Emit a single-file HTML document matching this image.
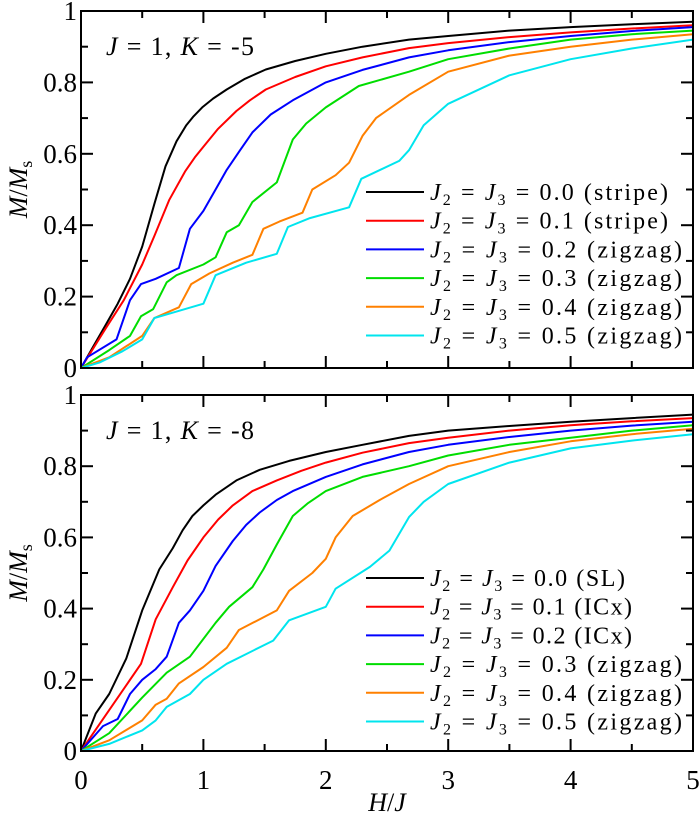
<!DOCTYPE html>
<html><head><meta charset="utf-8"><style>
body{margin:0;background:#fff}
svg, svg text, svg tspan{font-family:"Liberation Serif","DejaVu Serif",serif}
</style></head><body>
<svg id="c" width="700" height="816" xmlns="http://www.w3.org/2000/svg" font-family="Liberation Serif, DejaVu Serif, serif"></svg>
<script>
const colors=["#000000","#ff0000","#0000ff","#00dd00","#ff8000","#00e5ee"];
const xTicks=[0,1,2,3,4,5];
const yTicks=[0,0.2,0.4,0.6,0.8,1];
const yTickLabels=["0","0.2","0.4","0.6","0.8","1"];
const topLabels=["0.0 (stripe)","0.1 (stripe)","0.2 (zigzag)","0.3 (zigzag)","0.4 (zigzag)","0.5 (zigzag)"];
const botLabels=["0.0 (SL)","0.1 (ICx)","0.2 (ICx)","0.3 (zigzag)","0.4 (zigzag)","0.5 (zigzag)"];
// top panel series [x,y]
const top0=[[0,0],[0.1,0.06],[0.2,0.12],[0.3,0.18],[0.4,0.25],[0.5,0.34],[0.6,0.46],[0.69,0.565],[0.78,0.635],[0.86,0.68],[0.92,0.705],[0.99,0.73],[1.08,0.755],[1.19,0.78],[1.34,0.81],[1.51,0.836],[1.75,0.86],[2.0,0.88],[2.3,0.9],[2.68,0.92],[3,0.93],[3.5,0.945],[4,0.955],[4.5,0.963],[5,0.97]];
const top1=[[0,0],[0.2,0.11],[0.35,0.19],[0.5,0.29],[0.6,0.37],[0.72,0.47],[0.85,0.55],[0.93,0.59],[1.0,0.62],[1.12,0.67],[1.27,0.72],[1.38,0.75],[1.51,0.78],[1.75,0.815],[2.0,0.845],[2.3,0.87],[2.68,0.896],[3,0.91],[3.5,0.927],[4,0.94],[4.5,0.951],[5,0.96]];
const top2=[[0,0],[0.05,0.03],[0.29,0.08],[0.4,0.19],[0.49,0.235],[0.61,0.25],[0.8,0.28],[0.89,0.39],[1.0,0.44],[1.1,0.5],[1.19,0.555],[1.3,0.61],[1.4,0.66],[1.55,0.71],[1.73,0.75],[2.0,0.8],[2.3,0.835],[2.68,0.87],[3,0.89],[3.5,0.913],[4,0.93],[4.5,0.944],[5,0.955]];
const top3=[[0,0],[0.23,0.05],[0.4,0.09],[0.49,0.145],[0.59,0.165],[0.7,0.24],[0.78,0.26],[1.0,0.29],[1.1,0.31],[1.19,0.38],[1.29,0.4],[1.4,0.465],[1.6,0.52],[1.73,0.64],[1.84,0.685],[2.0,0.73],[2.27,0.79],[2.68,0.83],[3,0.865],[3.5,0.895],[4,0.92],[4.5,0.935],[5,0.945]];
const top4=[[0,0],[0.23,0.03],[0.5,0.09],[0.6,0.14],[0.8,0.17],[0.9,0.235],[1.05,0.265],[1.24,0.295],[1.4,0.317],[1.49,0.39],[1.62,0.41],[1.81,0.435],[1.89,0.5],[2.08,0.54],[2.19,0.575],[2.3,0.65],[2.41,0.7],[2.68,0.765],[3,0.83],[3.5,0.875],[4,0.9],[4.5,0.92],[5,0.935]];
const top5=[[0,0],[0.15,0.015],[0.34,0.047],[0.5,0.08],[0.6,0.14],[0.7,0.15],[1.0,0.18],[1.1,0.26],[1.35,0.295],[1.6,0.32],[1.69,0.395],[1.87,0.42],[2.19,0.45],[2.29,0.53],[2.6,0.58],[2.68,0.61],[2.8,0.68],[3,0.74],[3.5,0.82],[4,0.865],[4.5,0.895],[5,0.92]];
// bottom panel series
const bot0=[[0,0],[0.12,0.105],[0.23,0.16],[0.37,0.26],[0.5,0.395],[0.64,0.51],[0.75,0.57],[0.83,0.62],[0.91,0.66],[1.0,0.69],[1.1,0.72],[1.27,0.76],[1.46,0.79],[1.7,0.815],[2.0,0.84],[2.3,0.86],[2.68,0.885],[3,0.9],[3.5,0.913],[4,0.925],[4.5,0.935],[5,0.945]];
const bot1=[[0,0],[0.23,0.115],[0.49,0.245],[0.61,0.37],[0.75,0.46],[0.87,0.535],[1.0,0.6],[1.12,0.65],[1.24,0.69],[1.4,0.73],[1.6,0.76],[1.8,0.787],[2.0,0.81],[2.3,0.838],[2.68,0.865],[3,0.88],[3.5,0.9],[4,0.915],[4.5,0.926],[5,0.935]];
const bot2=[[0,0],[0.18,0.07],[0.3,0.09],[0.4,0.16],[0.5,0.2],[0.61,0.23],[0.7,0.265],[0.8,0.36],[0.89,0.395],[1.0,0.45],[1.1,0.52],[1.24,0.59],[1.35,0.635],[1.46,0.67],[1.6,0.705],[1.73,0.73],[2.0,0.77],[2.3,0.805],[2.68,0.84],[3,0.86],[3.5,0.882],[4,0.9],[4.5,0.914],[5,0.925]];
const bot3=[[0,0],[0.23,0.05],[0.5,0.15],[0.7,0.22],[0.89,0.265],[1.1,0.36],[1.21,0.405],[1.4,0.46],[1.49,0.51],[1.6,0.58],[1.73,0.66],[1.85,0.695],[2.0,0.73],[2.3,0.77],[2.68,0.8],[3,0.83],[3.5,0.86],[4,0.88],[4.5,0.9],[5,0.915]];
const bot4=[[0,0],[0.23,0.03],[0.5,0.086],[0.61,0.13],[0.7,0.147],[0.8,0.19],[1.0,0.236],[1.19,0.29],[1.29,0.34],[1.6,0.395],[1.7,0.45],[1.89,0.5],[2.0,0.54],[2.08,0.6],[2.22,0.66],[2.44,0.705],[2.68,0.75],[3,0.8],[3.5,0.84],[4,0.87],[4.5,0.89],[5,0.905]];
const bot5=[[0,0],[0.23,0.02],[0.5,0.058],[0.61,0.086],[0.7,0.124],[0.89,0.16],[1.0,0.2],[1.19,0.245],[1.57,0.31],[1.7,0.367],[2.0,0.405],[2.08,0.456],[2.36,0.517],[2.52,0.563],[2.68,0.657],[2.8,0.7],[3,0.75],[3.5,0.81],[4,0.85],[4.5,0.872],[5,0.89]];
const topSeries=[top0,top1,top2,top3,top4,top5];
const botSeries=[bot0,bot1,bot2,bot3,bot4,bot5];

const NS="http://www.w3.org/2000/svg";
const svg=document.getElementById('c');
const FONT='"Liberation Serif","DejaVu Serif",serif';
function el(t,a,p){const e=document.createElementNS(NS,t);for(const k in a)e.setAttribute(k,a[k]);if(t==='text')e.style.fontFamily=FONT;(p||svg).appendChild(e);return e;}
const X0=81,X1=693;
function sx(v){return X0+(X1-X0)*v/5;}
function panel(name,yTop,yBot,series,labels,title,legY,legW){
  const g=el('g',{});
  
  
  const sy=v=>yBot-(yBot-yTop)*v;
  const clip=el('clipPath',{id:name+'-clip'},g);
  el('rect',{x:X0,y:yTop,width:X1-X0,height:yBot-yTop},clip);
  series.forEach((s,i)=>{
    const p=el('polyline',{points:s.map(d=>sx(d[0]).toFixed(1)+','+sy(d[1]).toFixed(1)).join(' '),fill:'none',stroke:colors[i],'stroke-width':2,'stroke-linejoin':'round','clip-path':'url(#'+name+'-clip)'},g);
    
    
  });
  for(let v=0;v<=5.001;v+=0.5){const major=Math.abs(v-Math.round(v))<0.01;const L=major?12:7;const x=sx(v);
    el('line',{x1:x,x2:x,y1:yBot,y2:yBot-L,stroke:'#000','stroke-width':2},g);
    el('line',{x1:x,x2:x,y1:yTop,y2:yTop+L,stroke:'#000','stroke-width':2},g);}
  for(let k=0;k<=10;k++){const v=k/10;const major=k%2==0;const L=major?12:7;const y=sy(v);
    el('line',{x1:X0,x2:X0+L,y1:y,y2:y,stroke:'#000','stroke-width':2},g);
    el('line',{x1:X1,x2:X1-L,y1:y,y2:y,stroke:'#000','stroke-width':2},g);}
  yTicks.forEach((v,i)=>{const t=el('text',{x:X0-4,y:sy(v)+9,'text-anchor':'end','font-size':27},g);t.textContent=yTickLabels[i];
    
    });
  el('rect',{x:X0,y:yTop,width:X1-X0,height:yBot-yTop,fill:'none',stroke:'#000','stroke-width':2},g);
  const tt=el('text',{x:106,y:yTop+44,'font-size':26,textLength:148,lengthAdjust:'spacing'},g);
  tt.innerHTML='<tspan font-style="italic">J</tspan> = 1, <tspan font-style="italic">K</tspan> = -'+title;
  
  
  const yt=el('text',{x:0,y:0,'font-size':26,transform:'translate(27,'+((yTop+yBot)/2)+') rotate(-90)','text-anchor':'middle'},g);
  yt.innerHTML='<tspan font-style="italic">M</tspan>/<tspan font-style="italic">M</tspan><tspan font-size="18" dy="5">s</tspan>';
  
  
  labels.forEach((lab,i)=>{const y=legY+i*28.7;
    const lg=el('g',{},g);
    
    
    el('line',{x1:366,x2:424,y1:y,y2:y,stroke:colors[i],'stroke-width':2},lg);
    const t=el('text',{x:430,y:y+8,'font-size':24,textLength:legW[i],lengthAdjust:'spacing'},lg);
    t.innerHTML='<tspan font-style="italic">J</tspan><tspan font-size="16" dy="5">2</tspan><tspan dy="-5"> = </tspan><tspan font-style="italic">J</tspan><tspan font-size="16" dy="5">3</tspan><tspan dy="-5"> = '+lab+'</tspan>';
  });
}
panel('top-panel',11,368,topSeries,topLabels,'5',192,[238,238,252,252,252,252]);
panel('bottom-panel',395,751,botSeries,botLabels,'8',578,[195,202,202,252,252,252]);
xTicks.forEach(v=>{const t=el('text',{x:sx(v),y:789,'text-anchor':'middle','font-size':27});t.textContent=v;
  
  });
const xt=el('text',{x:387,y:811,'text-anchor':'middle','font-size':26});
xt.innerHTML='<tspan font-style="italic">H</tspan>/<tspan font-style="italic">J</tspan>';


</script>
</body></html>
